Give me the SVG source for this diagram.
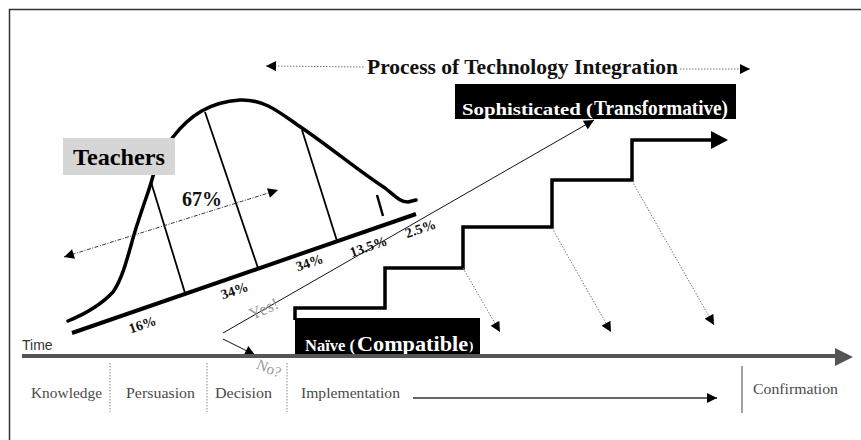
<svg xmlns="http://www.w3.org/2000/svg" width="861" height="440" viewBox="0 0 861 440">
  <style>
    .serifb { font-family: "Liberation Serif", "Times New Roman", serif; font-weight: bold; }
    .stage { font-family: "Liberation Serif", "Times New Roman", serif; font-size: 15px; fill: #4a4a4a; }
    .pct { font-family: "Liberation Serif", "Times New Roman", serif; font-weight: bold; font-size: 14px; fill: #111; }
    .faint { font-family: "Liberation Serif", "Times New Roman", serif; fill: #9a9a9a; }
    .dotted { fill: none; stroke: #777; stroke-width: 1; stroke-dasharray: 1.5 1.5; }
    .sep { fill: none; stroke: #888; stroke-width: 1; stroke-dasharray: 1.5 1.5; }
    .thin { fill: none; stroke: #111; stroke-width: 1; }
  </style>
  <defs>
    <marker id="ah" viewBox="0 0 10 10" refX="10" refY="5" markerWidth="11" markerHeight="10" markerUnits="userSpaceOnUse" orient="auto-start-reverse">
      <path d="M0,0 L10,5 L0,10 z" fill="#000"/>
    </marker>
  </defs>

  <rect width="861" height="440" fill="#fff"/>
  <!-- frame -->
  <path d="M9.5,440 L9.5,9.5 L861,9.5" fill="none" stroke="#333" stroke-width="1.5"/>

  <!-- header: process label with arrows both ways -->
  <g id="process-title">
    <line class="dotted" x1="266" y1="66" x2="365" y2="67" marker-start="url(#ah)"/>
    <line class="dotted" x1="680" y1="69" x2="750" y2="69" marker-end="url(#ah)"/>
    <text class="serifb" x="367" y="74" font-size="21" textLength="311" lengthAdjust="spacingAndGlyphs" fill="#111">Process of Technology Integration</text>
  </g>

  <!-- adoption bell curve -->
  <g id="bell-curve">
    <path d="M68,321 C85,314 100,306 113,292 C125,275 130,245 138,222 C145,200 150,188 153,176 C158,160 165,148 173,137 C190,115 210,102 240,100 C265,99 280,113 302,128 C330,147 360,172 385,188 C395,196 400,202 408,202 L416,200" fill="none" stroke="#000" stroke-width="3.5" stroke-linecap="round" stroke-linejoin="round"/>
    <line x1="72" y1="333" x2="416" y2="214" stroke="#000" stroke-width="4"/>
    <line x1="151" y1="182" x2="185" y2="293" stroke="#000" stroke-width="1.8"/>
    <line x1="205" y1="112" x2="258" y2="268" stroke="#000" stroke-width="1.8"/>
    <line x1="302" y1="130" x2="337" y2="241" stroke="#000" stroke-width="1.8"/>
    <line x1="377" y1="195" x2="383" y2="216" stroke="#000" stroke-width="2.5"/>
    <text class="pct" transform="translate(144,329) rotate(-19)" text-anchor="middle">16%</text>
    <text class="pct" transform="translate(236,295) rotate(-19)" text-anchor="middle">34%</text>
    <text class="pct" transform="translate(311,267) rotate(-19)" text-anchor="middle">34%</text>
    <text class="pct" transform="translate(370,251) rotate(-19)" text-anchor="middle">13.5%</text>
    <text class="pct" transform="translate(422,233) rotate(-19)" text-anchor="middle">2.5%</text>
  </g>

  <!-- 67% span -->
  <g id="span-67">
    <line x1="64" y1="257" x2="278" y2="190" stroke="#222" stroke-width="0.9" stroke-dasharray="4 1.5 1 1.5" marker-start="url(#ah)" marker-end="url(#ah)"/>
    <text class="serifb" x="182" y="206" font-size="20" fill="#111">67%</text>
  </g>

  <!-- Teachers label -->
  <g id="teachers">
    <rect x="63" y="138" width="112" height="37" fill="#d6d6d6"/>
    <text class="serifb" x="73" y="165" font-size="24" textLength="92" lengthAdjust="spacingAndGlyphs" fill="#000">Teachers</text>
  </g>

  <!-- staircase of integration -->
  <g id="staircase">
    <path d="M295,320 L295,308 L385,308 L385,268 L463,268 L463,227 L552,227 L552,180 L632,180 L632,140 L713,140" fill="none" stroke="#000" stroke-width="3.5" stroke-linejoin="miter"/>
    <polygon points="711,131 728,140 711,149" fill="#000"/>
  </g>

  <!-- connectors -->
  <g id="connectors">
    <line class="thin" x1="223" y1="333" x2="594" y2="120" marker-end="url(#ah)"/>
    <line class="thin" x1="223" y1="339" x2="255" y2="355" marker-end="url(#ah)"/>
    <line class="dotted" x1="463" y1="268" x2="500" y2="332" marker-end="url(#ah)"/>
    <line class="dotted" x1="552" y1="228" x2="611" y2="332" marker-end="url(#ah)"/>
    <line class="dotted" x1="632" y1="181" x2="714" y2="325" marker-end="url(#ah)"/>
    <line x1="413" y1="398" x2="717" y2="398" stroke="#333" stroke-width="1.5" marker-end="url(#ah)"/>
  </g>

  <text class="faint" transform="translate(266,314) rotate(-24)" text-anchor="middle" font-size="17">Yes!</text>
  <text class="faint" transform="translate(267,373) rotate(22)" text-anchor="middle" font-size="15">No?</text>

  <!-- sophisticated outcome -->
  <g id="sophisticated">
    <rect x="455" y="84" width="281" height="35" fill="#000"/>
    <text class="serifb" x="462" y="115" font-size="17" textLength="131" lengthAdjust="spacingAndGlyphs" fill="#fff">Sophisticated (</text>
    <text class="serifb" x="594" y="115" font-size="21" textLength="134" lengthAdjust="spacingAndGlyphs" fill="#fff">Transformative)</text>
  </g>

  <!-- naive outcome -->
  <g id="naive">
    <rect x="295" y="318" width="185" height="36" fill="#000"/>
    <text class="serifb" x="305" y="351" font-size="16" textLength="50" lengthAdjust="spacingAndGlyphs" fill="#fff">Naïve (</text>
    <text class="serifb" x="357" y="351" font-size="21" textLength="111" lengthAdjust="spacingAndGlyphs" fill="#fff">Compatible</text>
    <text class="serifb" x="469" y="350" font-size="13" fill="#fff">)</text>
  </g>

  <!-- time axis -->
  <g id="time-axis">
    <line x1="22" y1="356" x2="837" y2="356" stroke="#555" stroke-width="4"/>
    <polygon points="835,348 853,357 835,366" fill="#555"/>
    <text x="22" y="350" font-family="Liberation Sans, Arial, sans-serif" font-size="14" fill="#333">Time</text>
  </g>

  <!-- stages -->
  <g id="stages">
    <line class="sep" x1="110" y1="363" x2="110" y2="412"/>
    <line class="sep" x1="207" y1="363" x2="207" y2="412"/>
    <line class="sep" x1="287" y1="363" x2="287" y2="412"/>
    <line x1="742" y1="366" x2="742" y2="413" stroke="#444" stroke-width="1"/>
    <text class="stage" x="31" y="398" textLength="71" lengthAdjust="spacingAndGlyphs">Knowledge</text>
    <text class="stage" x="126" y="398" textLength="69" lengthAdjust="spacingAndGlyphs">Persuasion</text>
    <text class="stage" x="215" y="398" textLength="57" lengthAdjust="spacingAndGlyphs">Decision</text>
    <text class="stage" x="301" y="398" textLength="99" lengthAdjust="spacingAndGlyphs">Implementation</text>
    <text class="stage" x="753" y="394" textLength="85" lengthAdjust="spacingAndGlyphs">Confirmation</text>
  </g>
</svg>
